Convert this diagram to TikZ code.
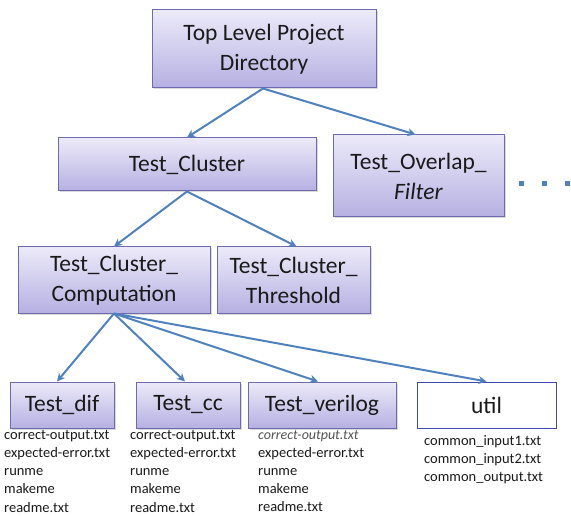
\documentclass[tikz,border=0pt]{standalone}
\usepackage{fontspec}
\setmainfont{Carlito}
\usetikzlibrary{arrows.meta,shadows}
\definecolor{edgeblue}{HTML}{4F81BD}
\definecolor{boxline}{HTML}{6E6AAE}
\definecolor{boxtop}{HTML}{ECEAF9}
\definecolor{boxbot}{HTML}{B6B0E2}
\definecolor{utilline}{HTML}{3F4AAA}
\definecolor{txt}{HTML}{1A1A1A}
\tikzset{
  dirbox/.style={draw=boxline, line width=1pt, top color=boxtop, bottom color=boxbot,
    align=center, font=\fontsize{23.5}{30}\selectfont, text=txt, inner sep=0pt,
    drop shadow={shadow xshift=1.5pt, shadow yshift=-1.5pt, opacity=0.3}},
  plainbox/.style={draw=utilline, line width=1pt, fill=white,
    align=center, font=\fontsize{23.5}{30}\selectfont, text=txt, inner sep=0pt},
  files/.style={align=left, anchor=north west, font=\fontsize{14.5}{18.2}\selectfont, text=txt, inner sep=0pt},
  link/.style={draw=edgeblue, line width=2pt, -{Stealth[length=8pt,width=8pt,inset=2.5pt]}},
  dot/.style={fill=edgeblue, minimum size=5pt, inner sep=0pt}
}
\begin{document}
\begin{tikzpicture}[x=1pt,y=-1pt]
\useasboundingbox (0,0) rectangle (571,516);

% directory boxes
\node[dirbox, minimum width=224pt, minimum height=78pt] (top) at (264,49) {Top Level Project\\Directory};
\node[dirbox, minimum width=258pt, minimum height=53pt] (cluster) at (187,164.5) {Test\_Cluster};
\node[dirbox, minimum width=171pt, minimum height=82pt] (overlap) at (418.5,176) {Test\_Overlap\_\\\textit{Filter}};
\node[dirbox, minimum width=192pt, minimum height=66pt] (comp) at (114,280) {Test\_Cluster\_\\Computation};
\node[dirbox, minimum width=153pt, minimum height=66pt] (thresh) at (293.5,280) {Test\_Cluster\_\\Threshold};
\node[dirbox, minimum width=104pt, minimum height=46pt] (dif) at (62,405) {Test\_dif};
\node[dirbox, minimum width=104pt, minimum height=46pt] (cc) at (188,405) {Test\_cc};
\node[dirbox, minimum width=148pt, minimum height=46pt] (verilog) at (322,405) {Test\_verilog};
\node[plainbox, minimum width=139pt, minimum height=46pt] (util) at (486.5,405) {util};

% continuation marks
\node[dot] (d1) at (521,184) {};
\node[dot] (d2) at (544,184) {};
\node[dot] (d3) at (567,184) {};

% file listings
\node[files] (fdif) at (4,430) {correct-output.txt\\expected-error.txt\\runme\\makeme\\readme.txt};
\node[files] (fcc) at (130,430) {correct-output.txt\\expected-error.txt\\runme\\makeme\\readme.txt};
\node[files] (fver) at (258,430) {{\fontsize{14}{18.2}\selectfont\itshape\color{txt!75} correct-output.txt}\\expected-error.txt\\runme\\makeme\\readme.txt};
\node[files] (futil) at (424,435) {common\_input1.txt\\common\_input2.txt\\common\_output.txt};

% connectors
\coordinate (topout) at ([xshift=-1pt]top.south);
\draw[link] (topout) -- (cluster.north);
\draw[link] (topout) -- ([xshift=-3pt]overlap.north);
\draw[link] (cluster.south) -- (comp.north);
\draw[link] (cluster.south) -- ([xshift=3pt]thresh.north);
\draw[link] (comp.south) -- ([xshift=-5pt]dif.north);
\draw[link] (comp.south) -- ([xshift=-3pt]cc.north);
\draw[link] (comp.south) -- ([xshift=-4pt]verilog.north);
\draw[link] (comp.south) -- (util.north);
\end{tikzpicture}
\end{document}
